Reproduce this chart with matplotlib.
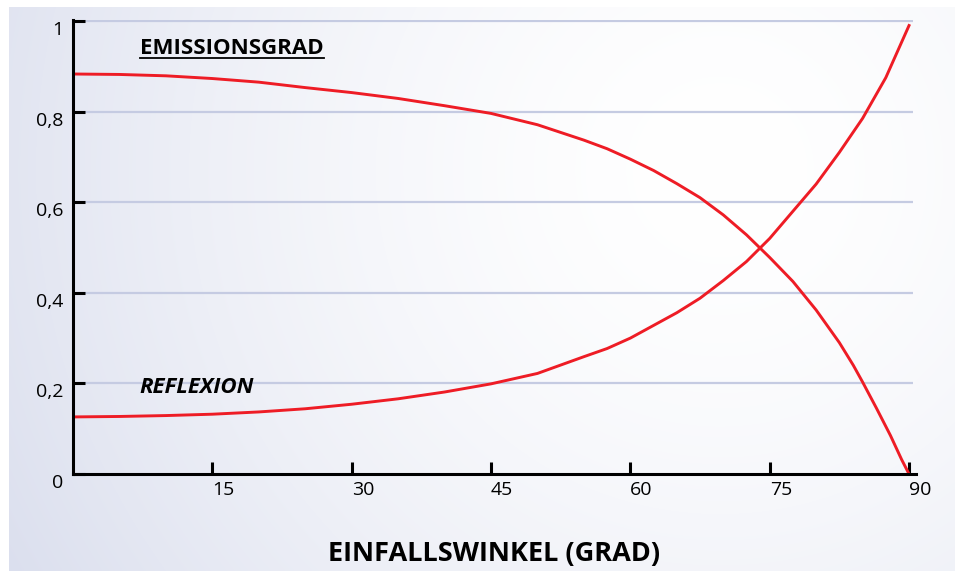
import matplotlib
matplotlib.use("Agg")
import matplotlib.pyplot as plt
import numpy as np
from matplotlib.lines import Line2D

plt.rcParams["font.family"] = ["Open Sans", "DejaVu Sans"]

# values
emission_angle = [0, 5, 10, 15, 20, 25, 30, 35, 40, 45, 50, 55, 57.5, 60, 62.5, 65, 67.5,
                  70, 72.5, 75, 77.5, 80, 82.5, 84, 85, 86.5, 88, 89.2, 90]
emission = [0.883, 0.882, 0.879, 0.873, 0.865, 0.853, 0.842, 0.829, 0.813, 0.796, 0.771,
            0.737, 0.718, 0.695, 0.670, 0.641, 0.610, 0.572, 0.528, 0.478, 0.425, 0.362,
            0.290, 0.240, 0.203, 0.145, 0.085, 0.032, 0.0]

reflexion_angle = [0, 5, 10, 15, 20, 25, 30, 35, 40, 45, 50, 55, 57.5, 60, 62.5, 65, 67.5,
                   70, 72.5, 75, 77.5, 80, 82.5, 85, 87.5, 90]
reflexion = [0.126, 0.127, 0.129, 0.132, 0.137, 0.144, 0.154, 0.166, 0.181, 0.199, 0.222,
             0.259, 0.277, 0.300, 0.328, 0.356, 0.388, 0.427, 0.469, 0.52, 0.58, 0.64,
             0.71, 0.785, 0.875, 0.99]

x_ticks = [15, 30, 45, 60, 75, 90]
y_ticks = [0, 0.2, 0.4, 0.6, 0.8, 1.0]
y_tick_labels = ["0", "0,2", "0,4", "0,6", "0,8", "1"]
grid_levels = [0.2, 0.4, 0.6, 0.8, 1.0]

W, H = 955, 571
fig = plt.figure(figsize=(W / 100, H / 100), dpi=100)
fig.patch.set_facecolor("white")

# soft lavender background, white towards the upper right
bg = fig.add_axes([9 / W, 0, (W - 9) / W, (H - 7) / H], zorder=-10)
gx, gy = np.meshgrid(np.linspace(9, W, 400), np.linspace(7, H, 300))
d = np.hypot(gx - 720, gy - 170) / 820
t = np.clip(d, 0, 1) ** 1.6
white = np.array([1.0, 1.0, 1.0])
lav = np.array([0xdb, 0xdf, 0xee]) / 255
img = white[None, None, :] * (1 - t[..., None]) + lav[None, None, :] * t[..., None]
bg.imshow(img, aspect="auto", interpolation="bilinear")
bg.axis("off")

ax = fig.add_axes([73 / W, 1 - 474 / H, (916 - 73) / W, 454 / H])
ax.patch.set_alpha(0)
ax.set_xlim(0, 90.75)
ax.set_ylim(0, 454 / 453)

ax.hlines(grid_levels, 0, 90.4, color="#c5cbe2", lw=1.6, zorder=1)

red = "#ee1c25"
ax.plot(emission_angle, emission, color=red, lw=2.1, zorder=3, solid_joinstyle="round")
ax.plot(reflexion_angle, reflexion, color=red, lw=2.1, zorder=3, solid_joinstyle="round")

for s in ["top", "right"]:
    ax.spines[s].set_visible(False)
for s in ["left", "bottom"]:
    ax.spines[s].set_linewidth(2.2)
    ax.spines[s].set_zorder(4)

ax.set_xticks(x_ticks)
ax.set_xticklabels([str(v) for v in x_ticks])
ax.set_yticks(y_ticks)
ax.set_yticklabels(y_tick_labels)
ax.tick_params(direction="in", length=8.5, width=2.2, labelsize=14, colors="black")
ax.tick_params(axis="x", pad=5)
ax.tick_params(axis="y", pad=7)
for lab in ax.get_xticklabels():
    lab.set_horizontalalignment("left")
for lab in ax.get_yticklabels():
    lab.set_verticalalignment("top")

# axis title near the bottom edge
fig.text(494 / W, 1 - 561 / H, "EINFALLSWINKEL (GRAD)", fontsize=19.5, fontweight="bold",
         ha="center", va="baseline")

em = ax.text(7.2, 0.94, "EMISSIONSGRAD", fontsize=16, fontweight="bold", va="center", ha="left")
ax.text(7.2, 0.19, "REFLEXION", fontsize=16, fontweight="bold", fontstyle="italic",
        va="center", ha="left")

# underline under the emission label
fig.canvas.draw()
bb = em.get_window_extent()
uy = (bb.y0 + 1) / H
fig.add_artist(Line2D([bb.x0 / W, bb.x1 / W], [uy, uy], color="black", lw=1.3))

fig.savefig("out.png", dpi=100)
